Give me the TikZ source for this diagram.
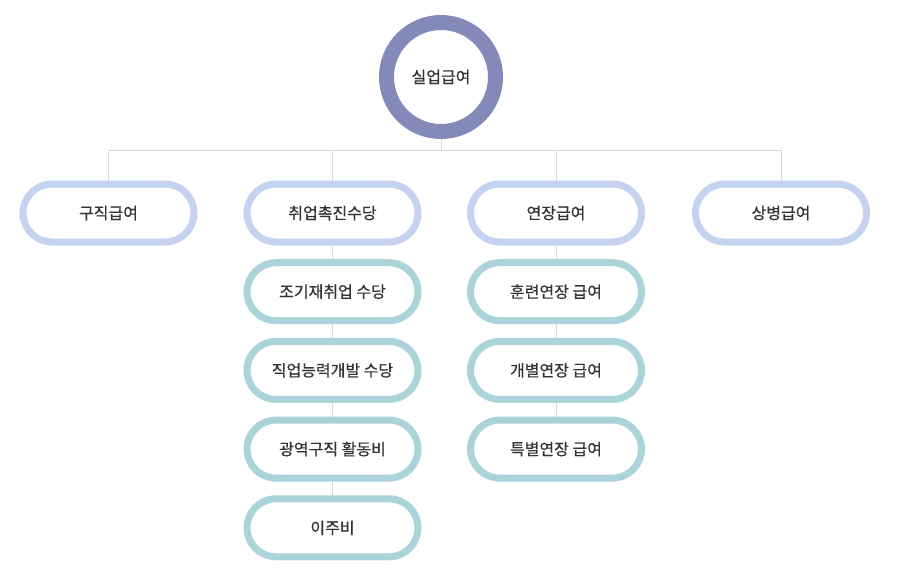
\documentclass[tikz,border=0pt]{standalone}
\usepackage{fontspec}
\setmainfont{Noto Sans CJK KR}
\newfontfamily\labelfont{Noto Sans CJK KR}[FakeBold=0.5]
\usetikzlibrary{positioning, backgrounds}

\definecolor{ringpurple}{HTML}{8389B9}
\definecolor{rowblue}{HTML}{C4D3EF}
\definecolor{subteal}{HTML}{AAD3DA}
\definecolor{linegray}{HTML}{D9D9D9}
\definecolor{textgray}{HTML}{333333}

\begin{document}
\begin{tikzpicture}[x=1pt, y=-1pt,
    benefit/.style={draw=rowblue, line width=7pt, fill=white, rounded corners=29pt,
      minimum width=171pt, minimum height=58pt, outer sep=0pt, text=textgray,
      font=\labelfont\fontsize{16}{19}\selectfont},
    subbenefit/.style={benefit, draw=subteal},
    link/.style={draw=linegray, line width=1pt},
    node distance=20.7pt]
    \useasboundingbox (0,0) rectangle (903,586);

    \node[circle, draw=ringpurple, line width=15pt, fill=white, minimum size=109pt,
      outer sep=0pt, text=textgray, font=\labelfont\fontsize{16}{19}\selectfont]
      (unemp) at (441,77) {실업급여};
    \coordinate (bus) at (441,150);

    \node[benefit] (jobseek) at (108.5,213) {구직급여};
    \node[benefit] (promote) at (332.5,213) {취업촉진수당};
    \node[benefit] (extend) at (556,213) {연장급여};
    \node[benefit] (sick) at (781,213) {상병급여};

    \node[subbenefit, below=of promote] (early) {조기재취업 수당};
    \node[subbenefit, below=of early] (skill) {직업능력개발 수당};
    \node[subbenefit, below=of skill] (wide) {광역구직 활동비};
    \node[subbenefit, below=of wide] (move) {이주비};

    \node[subbenefit, below=of extend] (training) {훈련연장 급여};
    \node[subbenefit, below=of training] (individual) {개별연장 급여};
    \node[subbenefit, below=of individual] (special) {특별연장 급여};

    \begin{scope}[on background layer]
      \draw[link] (unemp.south) -- (bus);
      \draw[link] (jobseek.north) -- (jobseek.north |- bus) -- (sick.north |- bus) -- (sick.north);
      \draw[link] (promote.north) -- (promote.north |- bus);
      \draw[link] (extend.north) -- (extend.north |- bus);
      \draw[link] (promote) -- (early) -- (skill) -- (wide) -- (move);
      \draw[link] (extend) -- (training) -- (individual) -- (special);
    \end{scope}
\end{tikzpicture}
\end{document}
